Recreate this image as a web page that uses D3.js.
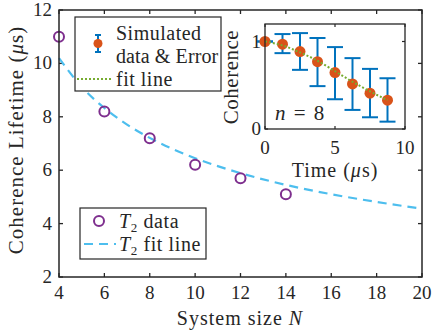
<!DOCTYPE html>
<html lang="en">
  <head>
    <meta charset="UTF-8" />
    <title>Coherence lifetime</title>
    <style>
      body { margin: 0; background: #fff; }
      text { font-family: "Liberation Serif", "DejaVu Serif", serif; fill: #262626; }
    </style>
  </head>
  <body>
    <script src="https://d3js.org/d3.v7.min.js"></script>
    <script>
      // main panel data
      const sizes = [4, 6, 8, 10, 12, 14];
      const t2 = [11.0, 8.2, 7.2, 6.2, 5.7, 5.1];
      const fitN = [4, 5, 6, 7, 8, 10, 12, 14, 16, 18, 20];
      const fitT2 = [10.2, 9.12, 8.33, 7.71, 7.21, 6.45, 5.89, 5.45, 5.1, 4.81, 4.56];
      const xTicks = [4, 6, 8, 10, 12, 14, 16, 18, 20];
      const yTicks = [2, 4, 6, 8, 10, 12];

      // inset data
      const times = [0, 1.25, 2.5, 3.75, 5, 6.25, 7.5, 8.75];
      const coh = [1.0, 0.97, 0.885, 0.77, 0.645, 0.515, 0.41, 0.33];
      const errHi = [1.0, 1.085, 1.096, 1.04, 0.936, 0.81, 0.687, 0.58];
      const errLo = [1.0, 0.867, 0.676, 0.49, 0.34, 0.218, 0.134, 0.084];
      const fitCoh = [1.0, 0.955, 0.875, 0.78, 0.66, 0.54, 0.43, 0.33];
      const insetXTicks = [0, 5, 10];
      const insetYTicks = [0, 1];

      const W = 436, H = 332;
      const axisColor = "#262626";
      const svg = d3.select("body").append("svg").attr("width", W).attr("height", H);

      // ---------- main axes ----------
      const x = d3.scaleLinear().domain([4, 20]).range([59, 422]);
      const y = d3.scaleLinear().domain([2, 12]).range([277, 10]);

      const tickLen = 4;
      const main = svg.append("g");

      // ticks on all four sides, pointing in
      main.selectAll(".xt").data(xTicks).join("line")
        .attr("x1", d => x(d)).attr("x2", d => x(d))
        .attr("y1", y(2)).attr("y2", y(2) - tickLen)
        .attr("stroke", axisColor).attr("stroke-width", 1.3);
      main.selectAll(".xtt").data(xTicks).join("line")
        .attr("x1", d => x(d)).attr("x2", d => x(d))
        .attr("y1", y(12)).attr("y2", y(12) + tickLen)
        .attr("stroke", axisColor).attr("stroke-width", 1.3);
      main.selectAll(".yt").data(yTicks).join("line")
        .attr("x1", x(4)).attr("x2", x(4) + tickLen)
        .attr("y1", d => y(d)).attr("y2", d => y(d))
        .attr("stroke", axisColor).attr("stroke-width", 1.3);
      main.selectAll(".ytr").data(yTicks).join("line")
        .attr("x1", x(20)).attr("x2", x(20) - tickLen)
        .attr("y1", d => y(d)).attr("y2", d => y(d))
        .attr("stroke", axisColor).attr("stroke-width", 1.3);

      main.selectAll(".xl").data(xTicks).join("text")
        .attr("x", d => x(d)).attr("y", y(2) + 22)
        .attr("text-anchor", "middle").attr("font-size", 19)
        .text(d => d);
      main.selectAll(".yl").data(yTicks).join("text")
        .attr("x", x(4) - 7).attr("y", d => y(d) + 6)
        .attr("text-anchor", "end").attr("font-size", 19)
        .text(d => d);

      // fit line
      const fitLine = d3.line().x((d, i) => x(fitN[i])).y(d => y(d)).curve(d3.curveMonotoneX);
      main.append("path").datum(fitT2)
        .attr("d", fitLine)
        .attr("fill", "none").attr("stroke", "#4DBEEE")
        .attr("stroke-width", 2.2).attr("stroke-dasharray", "9,6");

      // data circles
      main.selectAll(".pt").data(t2).join("circle")
        .attr("cx", (d, i) => x(sizes[i])).attr("cy", d => y(d)).attr("r", 5)
        .attr("fill", "none").attr("stroke", "#7E2F8E").attr("stroke-width", 2);

      main.append("rect")
        .attr("x", x(4)).attr("y", y(12))
        .attr("width", x(20) - x(4)).attr("height", y(2) - y(12))
        .attr("fill", "none").attr("stroke", axisColor).attr("stroke-width", 1.5);

      main.append("text")
        .attr("x", 240).attr("y", 325).attr("text-anchor", "middle").attr("font-size", 20)
        .attr("letter-spacing", 1)
        .html('System size <tspan font-style="italic">N</tspan>');
      main.append("text")
        .attr("transform", "translate(23,140) rotate(-90)")
        .attr("text-anchor", "middle").attr("font-size", 21)
        .attr("letter-spacing", 1)
        .html('Coherence Lifetime (<tspan font-style="italic">μ</tspan>s)');

      // legend (main)
      const lg = svg.append("g");
      lg.append("rect").attr("x", 80).attr("y", 208).attr("width", 126).attr("height", 51)
        .attr("fill", "#fff").attr("stroke", axisColor).attr("stroke-width", 1.2);
      lg.append("circle").attr("cx", 99).attr("cy", 221).attr("r", 5)
        .attr("fill", "none").attr("stroke", "#7E2F8E").attr("stroke-width", 2);
      lg.append("line").attr("x1", 84).attr("x2", 116).attr("y1", 244).attr("y2", 244)
        .attr("stroke", "#4DBEEE").attr("stroke-width", 2.2).attr("stroke-dasharray", "9,6");
      lg.append("text").attr("x", 119).attr("y", 228).attr("font-size", 20).attr("letter-spacing", 0.6)
        .html('<tspan font-style="italic">T</tspan><tspan font-size="13" dy="4">2</tspan><tspan dy="-4"> data</tspan>');
      lg.append("text").attr("x", 119).attr("y", 251).attr("font-size", 20).attr("letter-spacing", 0.6)
        .html('<tspan font-style="italic">T</tspan><tspan font-size="13" dy="4">2</tspan><tspan dy="-4"> fit line</tspan>');

      // ---------- inset ----------
      const ix = d3.scaleLinear().domain([0, 10]).range([265, 405]);
      const iy = d3.scaleLinear().domain([0, 1.2]).range([129, 24]);
      const ins = svg.append("g");
      ins.append("rect")
        .attr("x", ix(0)).attr("y", iy(1.2))
        .attr("width", ix(10) - ix(0)).attr("height", iy(0) - iy(1.2))
        .attr("fill", "#fff");

      ins.selectAll(".ixt").data(insetXTicks).join("line")
        .attr("x1", d => ix(d)).attr("x2", d => ix(d))
        .attr("y1", iy(0)).attr("y2", iy(0) - 3)
        .attr("stroke", axisColor).attr("stroke-width", 1.2);
      ins.selectAll(".ixtt").data(insetXTicks).join("line")
        .attr("x1", d => ix(d)).attr("x2", d => ix(d))
        .attr("y1", iy(1.2)).attr("y2", iy(1.2) + 3)
        .attr("stroke", axisColor).attr("stroke-width", 1.2);
      ins.selectAll(".iyt").data(insetYTicks).join("line")
        .attr("x1", ix(0)).attr("x2", ix(0) + 3)
        .attr("y1", d => iy(d)).attr("y2", d => iy(d))
        .attr("stroke", axisColor).attr("stroke-width", 1.2);
      ins.selectAll(".iytr").data(insetYTicks).join("line")
        .attr("x1", ix(10)).attr("x2", ix(10) - 3)
        .attr("y1", d => iy(d)).attr("y2", d => iy(d))
        .attr("stroke", axisColor).attr("stroke-width", 1.2);

      ins.selectAll(".ixl").data(insetXTicks).join("text")
        .attr("x", d => ix(d)).attr("y", 154)
        .attr("text-anchor", "middle").attr("font-size", 19)
        .text(d => d);
      ins.selectAll(".iyl").data(insetYTicks).join("text")
        .attr("x", ix(0) - 4).attr("y", d => iy(d) + 6)
        .attr("text-anchor", "end").attr("font-size", 19)
        .text(d => d);

      // error bars
      const capW = 8;
      const eb = ins.append("g").attr("stroke", "#0072BD").attr("stroke-width", 2);
      eb.selectAll(".v").data(times).join("line")
        .attr("x1", d => ix(d)).attr("x2", d => ix(d))
        .attr("y1", (d, i) => iy(errHi[i])).attr("y2", (d, i) => iy(errLo[i]));
      eb.selectAll(".ch").data(times).join("line")
        .attr("x1", d => ix(d) - capW).attr("x2", d => ix(d) + capW)
        .attr("y1", (d, i) => iy(errHi[i])).attr("y2", (d, i) => iy(errHi[i]));
      eb.selectAll(".cl").data(times).join("line")
        .attr("x1", d => ix(d) - capW).attr("x2", d => ix(d) + capW)
        .attr("y1", (d, i) => iy(errLo[i])).attr("y2", (d, i) => iy(errLo[i]));

      ins.selectAll(".dot").data(coh).join("circle")
        .attr("cx", (d, i) => ix(times[i])).attr("cy", d => iy(d)).attr("r", 5.5)
        .attr("fill", "#D95319");

      const iFit = d3.line().x((d, i) => ix(times[i])).y(d => iy(d)).curve(d3.curveMonotoneX);
      ins.append("path").datum(fitCoh)
        .attr("d", iFit).attr("fill", "none")
        .attr("stroke", "#77AC30").attr("stroke-width", 2).attr("stroke-dasharray", "2,2");

      ins.append("rect")
        .attr("x", ix(0)).attr("y", iy(1.2))
        .attr("width", ix(10) - ix(0)).attr("height", iy(0) - iy(1.2))
        .attr("fill", "none").attr("stroke", axisColor).attr("stroke-width", 1.3);

      ins.append("text")
        .attr("x", 275).attr("y", 120).attr("font-size", 21)
        .html('<tspan font-style="italic">n</tspan><tspan> = 8</tspan>')
        .attr("word-spacing", 3);
      ins.append("text")
        .attr("x", 335).attr("y", 177).attr("text-anchor", "middle").attr("font-size", 20)
        .attr("letter-spacing", 1)
        .html('Time (<tspan font-style="italic">μ</tspan>s)');
      ins.append("text")
        .attr("transform", "translate(238,77) rotate(-90)")
        .attr("text-anchor", "middle").attr("font-size", 21)
        .attr("letter-spacing", 0.5)
        .text("Coherence");

      // legend (inset)
      const lg2 = svg.append("g");
      lg2.append("rect").attr("x", 75).attr("y", 17).attr("width", 146).attr("height", 74)
        .attr("fill", "#fff").attr("stroke", axisColor).attr("stroke-width", 1.2);
      lg2.append("line").attr("x1", 98).attr("x2", 98).attr("y1", 35).attr("y2", 52)
        .attr("stroke", "#0072BD").attr("stroke-width", 2);
      lg2.append("line").attr("x1", 95).attr("x2", 101).attr("y1", 35).attr("y2", 35)
        .attr("stroke", "#0072BD").attr("stroke-width", 2);
      lg2.append("line").attr("x1", 95).attr("x2", 101).attr("y1", 52).attr("y2", 52)
        .attr("stroke", "#0072BD").attr("stroke-width", 2);
      lg2.append("circle").attr("cx", 98).attr("cy", 43.5).attr("r", 4.5).attr("fill", "#D95319");
      lg2.append("line").attr("x1", 77).attr("x2", 113).attr("y1", 79).attr("y2", 79)
        .attr("stroke", "#77AC30").attr("stroke-width", 2).attr("stroke-dasharray", "2,2");
      lg2.append("text").attr("x", 116).attr("y", 40).attr("font-size", 20).attr("letter-spacing", 0.5).text("Simulated");
      lg2.append("text").attr("x", 116).attr("y", 63).attr("font-size", 20).attr("letter-spacing", 0.1).text("data & Error");
      lg2.append("text").attr("x", 116).attr("y", 86).attr("font-size", 20).attr("letter-spacing", 0.5).text("fit line");
    </script>
  </body>
</html>
